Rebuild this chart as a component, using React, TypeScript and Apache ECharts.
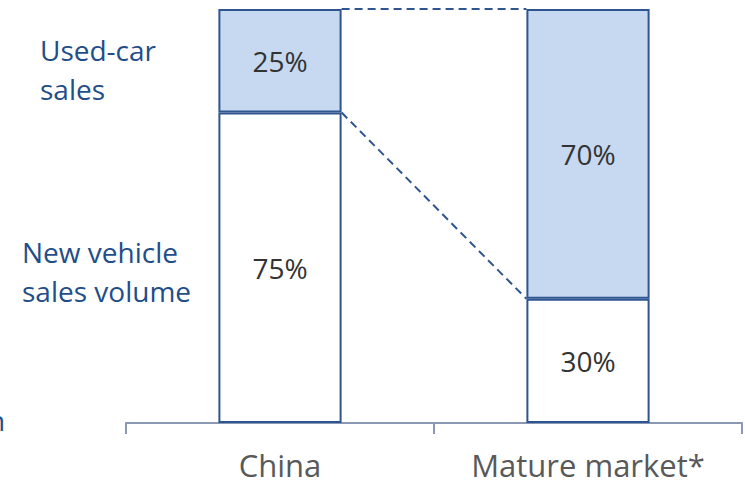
import React, { useEffect, useRef } from "react";
import * as echarts from "echarts";

const categories = ["China", "Mature market*"];
const newVehicle = [75, 30];
const usedCar = [25, 70];
const seriesNames = ["New vehicle sales volume", "Used-car sales"];

const BORDER = "#2e5590";
const FONT = "'Open Sans'";

export default function App() {
  const ref = useRef<HTMLDivElement>(null);
  useEffect(() => {
    document.body.style.margin = "0";
    const chart = echarts.init(ref.current!, null, { renderer: "svg" });
    const totals = newVehicle.map((v, i) => v + usedCar[i]);
    const connectors = [
      [0, totals[0], 1, totals[1]],
      [0, newVehicle[0], 1, newVehicle[1]],
    ];
    chart.setOption({
      animation: false,
      grid: { left: 126, right: 3, top: 9, bottom: 62 },
      xAxis: {
        type: "category",
        data: categories,
        axisLine: { lineStyle: { color: "#8a98b4", width: 2 } },
        axisTick: { show: true, length: 11, lineStyle: { color: "#8a98b4", width: 2 } },
        axisLabel: {
          interval: 0,
          hideOverlap: false,
          color: "#595959",
          fontSize: 31,
          lineHeight: 31,
          fontFamily: FONT,
          margin: 26,
        },
      },
      yAxis: { type: "value", min: 0, max: 100, show: false },
      graphic: [
        {
          type: "text",
          left: 40,
          top: 30,
          style: { text: "Used-car\nsales", fill: "#1f4e89", font: `28px ${FONT}`, lineHeight: 39 },
        },
        {
          type: "text",
          left: 22,
          top: 232,
          style: { text: "New vehicle\nsales volume", fill: "#1f4e89", font: `28px ${FONT}`, lineHeight: 39 },
        },
        {
          type: "text",
          left: -12,
          top: 406,
          style: { text: "n", fill: "#1f4e89", font: `28px ${FONT}` },
        },
      ],
      series: [
        {
          name: seriesNames[0],
          type: "bar",
          stack: "total",
          barWidth: "40%",
          data: newVehicle,
          itemStyle: { color: "#ffffff", borderColor: BORDER, borderWidth: 2 },
          label: { show: true, position: "inside", formatter: "{c}%", color: "#333333", fontSize: 28, fontFamily: FONT },
        },
        {
          name: seriesNames[1],
          type: "bar",
          stack: "total",
          barWidth: "40%",
          data: usedCar,
          itemStyle: { color: "#c6d9f0", borderColor: BORDER, borderWidth: 2 },
          label: { show: true, position: "inside", formatter: "{c}%", color: "#333333", fontSize: 28, fontFamily: FONT },
        },
        {
          type: "custom",
          data: connectors,
          encode: { x: 0, y: 1 },
          z: 1,
          renderItem: (params: any, api: any) => {
            const band = api.size([1, 0])[0];
            const half = band * 0.2;
            const p1 = api.coord([api.value(0), api.value(1)]);
            const p2 = api.coord([api.value(2), api.value(3)]);
            return {
              type: "line",
              shape: { x1: p1[0] + half, y1: p1[1], x2: p2[0] - half, y2: p2[1] },
              style: { stroke: BORDER, lineWidth: 2, lineDash: [8, 5] },
            };
          },
        },
      ],
    });
    return () => chart.dispose();
  }, []);
  return <div ref={ref} style={{ width: 745, height: 485 }} />;
}
